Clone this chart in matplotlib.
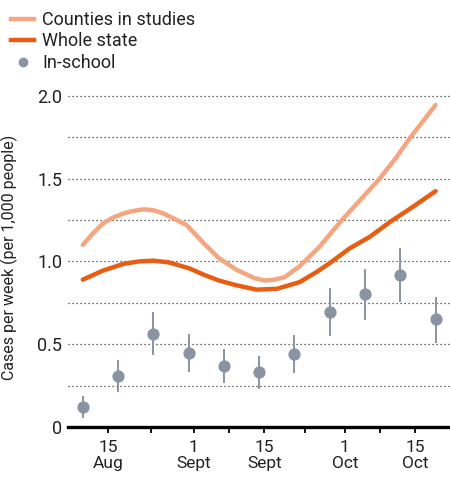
import matplotlib
matplotlib.use("Agg")
import matplotlib.pyplot as plt
from matplotlib.lines import Line2D

plt.rcParams['font.family'] = ['Roboto', 'DejaVu Sans']

# days since 1 Aug
county_days = [9, 11, 13, 15, 17, 19, 21, 23, 25, 27, 29.6, 33, 36, 39.5, 43, 45, 47, 49, 52, 56, 60.4, 64, 67.6, 71, 74, 79]
county_vals = [1.10, 1.17, 1.23, 1.265, 1.29, 1.305, 1.315, 1.31, 1.29, 1.26, 1.22, 1.11, 1.02, 0.95, 0.90, 0.885, 0.89, 0.905, 0.97, 1.09, 1.25, 1.37, 1.49, 1.62, 1.75, 1.945]

state_days = [9, 13, 17, 20, 23, 26, 30, 33, 36, 39.5, 43.5, 47.5, 52, 55.4, 58, 62, 66, 70, 74, 79]
state_vals = [0.89, 0.945, 0.985, 1.0, 1.005, 0.995, 0.96, 0.92, 0.885, 0.856, 0.83, 0.835, 0.875, 0.937, 0.99, 1.08, 1.15, 1.24, 1.32, 1.425]

school_days = [9, 16, 23, 30, 37, 44, 51, 58, 65, 72, 79]
school_vals = [0.12, 0.31, 0.56, 0.45, 0.37, 0.33, 0.44, 0.695, 0.805, 0.92, 0.65]
school_lo = [0.056, 0.21, 0.433, 0.33, 0.266, 0.23, 0.326, 0.552, 0.647, 0.753, 0.506]
school_hi = [0.186, 0.405, 0.693, 0.562, 0.474, 0.429, 0.554, 0.838, 0.957, 1.084, 0.788]

major_days = [14, 31, 45, 61, 75]
major_labels = ["15\nAug", "1\nSept", "15\nSept", "1\nOct", "15\nOct"]
minor_days = [22.5, 38, 53, 68]

yticks = [0, 0.5, 1.0, 1.5, 2.0]
ytick_labels = ["0", "0.5", "1.0", "1.5", "2.0"]
grid_levels = [0.25, 0.5, 0.75, 1.0, 1.25, 1.5, 1.75, 2.0]

light = '#F3A67F'
dark = '#E85D12'
gray = '#8A93A2'

fig = plt.figure(figsize=(4.5, 4.78), dpi=100)
ax = fig.add_axes([68/450, 1-427/478, 1-68/450, (427-87.7)/478])

for g in grid_levels:
    ax.axhline(g, color='#333333', lw=0.9, linestyle=(0, (1, 2.2)), zorder=0)

ax.plot(county_days, county_vals, color=light, lw=3.2, solid_capstyle='round', solid_joinstyle='round', zorder=3)
ax.plot(state_days, state_vals, color=dark, lw=3.2, solid_capstyle='round', solid_joinstyle='round', zorder=3)

lo_err = [v - l for v, l in zip(school_vals, school_lo)]
hi_err = [h - v for v, h in zip(school_vals, school_hi)]
ax.errorbar(school_days, school_vals, yerr=[lo_err, hi_err], fmt='o', color=gray,
            ms=7.8, elinewidth=1.4, capsize=0, zorder=4)

ax.set_xlim(6.06, 81.86)
ax.set_ylim(0, 2.05)

for s in ['top', 'right', 'left']:
    ax.spines[s].set_visible(False)
ax.spines['bottom'].set_linewidth(2.4)
ax.spines['bottom'].set_color('black')

ax.set_yticks(yticks)
ax.set_yticklabels(ytick_labels)
ax.tick_params(axis='y', length=0, pad=4, labelsize=13, colors='#222222')

ax.set_xticks(major_days)
ax.set_xticklabels(major_labels, linespacing=1.1)
ax.set_xticks(minor_days, minor=True)
ax.tick_params(axis='x', which='both', length=4.5, width=1.3, direction='out', pad=5, labelsize=12.5, colors='black')
for t in ax.get_xticklabels():
    t.set_color('#222222')

ax.set_ylabel("Cases per week (per 1,000 people)", fontsize=11.5, color='#222222')
ax.yaxis.set_label_coords(-0.131, 0.5)

handles = [Line2D([0], [0], color=light, lw=3.2),
           Line2D([0], [0], color=dark, lw=3.2),
           Line2D([0], [0], marker='o', color=gray, lw=0, ms=6)]
labels = ["Counties in studies", "Whole state", "In-school"]
fig.legend(handles, labels, loc='upper left', bbox_to_anchor=(0.0, 1.0), frameon=False,
           fontsize=13, handlelength=1.3, handletextpad=0.45, labelspacing=0.2,
           borderaxespad=0.15, borderpad=0.45, labelcolor='#222222')

fig.savefig("out.png", dpi=100)
